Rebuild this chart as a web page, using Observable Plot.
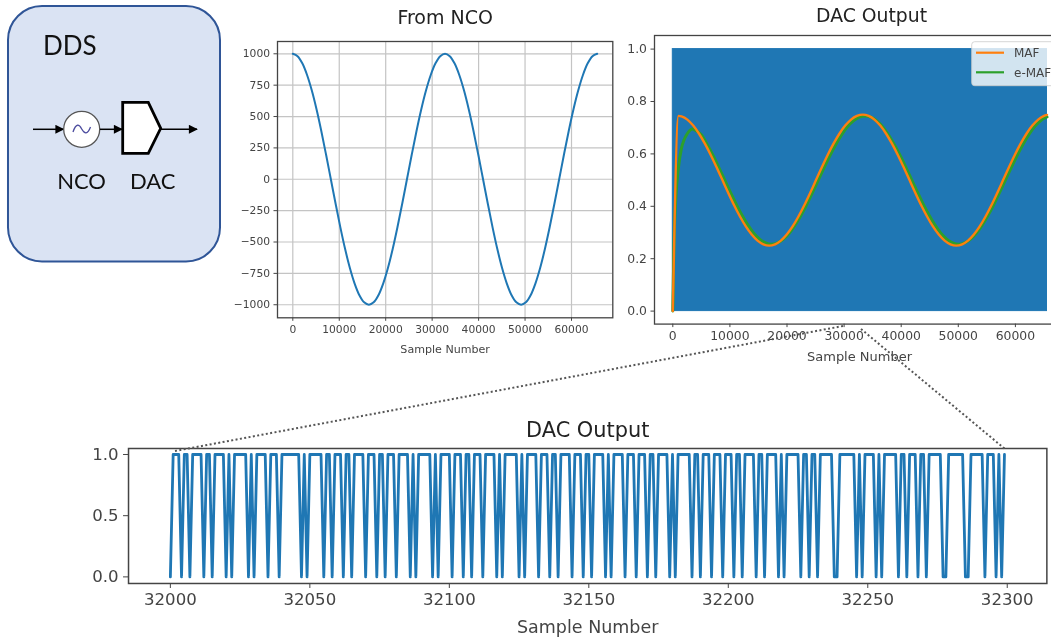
<!DOCTYPE html>
<html>
<head>
<meta charset="utf-8">
<script src="https://cdn.jsdelivr.net/npm/d3@7"></script>
<script src="https://cdn.jsdelivr.net/npm/@observablehq/plot@0.6"></script>
<style>
html,body{margin:0;padding:0;background:#fff;}
#page{position:relative;width:1051px;height:638px;overflow:hidden;background:#fff;filter:blur(0.6px);}
#page>svg{position:absolute;}
#page>svg.overlay{left:0;top:0;}
</style>
</head>
<body>
<div id="page">
<svg id="dds" class="overlay" width="1051" height="638" style="z-index:1">
  <defs>
    <marker id="arr" viewBox="0 0 10 10" refX="9" refY="5" markerWidth="10" markerHeight="9" markerUnits="userSpaceOnUse" orient="auto"><path d="M0,0L10,5L0,10z" fill="#000"/></marker>
  </defs>
  <rect x="8" y="6" width="212" height="255.5" rx="34" fill="#dae3f3" stroke="#2f5597" stroke-width="2"/>
  <text x="43" y="55" font-family="Lato" font-size="26" fill="#111">DDS</text>
  <line x1="33" y1="129.3" x2="63.5" y2="129.3" stroke="#000" stroke-width="1.5" marker-end="url(#arr)"/>
  <circle cx="81.7" cy="129.3" r="18" fill="#fff" stroke="#555" stroke-width="1.3"/>
  <path d="M73,132 C76,123 79,124 81.7,129 C84.5,134 87.5,135 90.5,127" fill="none" stroke="#4b4b9e" stroke-width="1.3"/>
  <line x1="100" y1="129.3" x2="122" y2="129.3" stroke="#000" stroke-width="1.5" marker-end="url(#arr)"/>
  <path d="M122.7,102.3H148.3L160.7,128.3L148.3,153.3H122.7Z" fill="#fff" stroke="#000" stroke-width="2.8"/>
  <line x1="161" y1="129.3" x2="197" y2="129.3" stroke="#000" stroke-width="1.5" marker-end="url(#arr)"/>
  <text x="81.6" y="189" text-anchor="middle" font-family="Lato" font-size="22" fill="#111">NCO</text>
  <text x="152.7" y="189" text-anchor="middle" font-family="Lato" font-size="22" fill="#111">DAC</text>
</svg>
<svg id="legend" class="overlay" width="1051" height="638" style="z-index:3">
  <rect x="971.7" y="41.7" width="100" height="44" rx="3" fill="#fff" fill-opacity="0.8" stroke="#ccc" stroke-opacity="0.8"/>
  <g id="legendItems"></g>
  <line x1="175" y1="451" x2="843" y2="326" stroke="#555" stroke-width="2" stroke-dasharray="2 2.4"/>
  <line x1="861" y1="329" x2="1005" y2="449" stroke="#555" stroke-width="2" stroke-dasharray="2 2.4"/>
</svg>
</div>
<script>
// ---------- From NCO ----------
const ncoSamples = [0,1024,2048,3072,4096,5120,6144,7168,8192,9216,10240,11264,12288,13312,14336,15360,16384,17408,18432,19456,20480,21504,22528,23552,24576,25600,26624,27648,28672,29696,30720,31744,32768,33792,34816,35840,36864,37888,38912,39936,40960,41984,43008,44032,45056,46080,47104,48128,49152,50176,51200,52224,53248,54272,55296,56320,57344,58368,59392,60416,61440,62464,63488,64512,65535];
const ncoValues  = [1000,981,924,831,707,556,383,195,0,-195,-383,-556,-707,-831,-924,-981,-1000,-981,-924,-831,-707,-556,-383,-195,0,195,383,556,707,831,924,981,1000,981,924,831,707,556,383,195,0,-195,-383,-556,-707,-831,-924,-981,-1000,-981,-924,-831,-707,-556,-383,-195,0,195,383,556,707,831,924,981,1000];

// ---------- DAC Output (full range) ----------
const dacSpan = [0, 65535];
const dacLevels = [0, 1];
const mafSamples = [0,1000,1524,2548,3572,4596,5620,6644,7668,8692,9716,10740,11764,12788,13812,14836,15860,16884,17908,18932,19956,20980,22004,23028,24052,25076,26100,27124,28148,29172,30196,31220,32244,33268,34292,35316,36340,37364,38388,39412,40436,41460,42484,43508,44532,45556,46580,47604,48628,49652,50676,51700,52724,53748,54772,55796,56820,57844,58868,59892,60916,61940,62964,63988,65012,65535];
const mafValues  = [0,.745,.743,.731,.708,.677,.639,.596,.549,.5,.451,.404,.361,.323,.292,.269,.255,.25,.255,.269,.292,.323,.361,.404,.451,.5,.549,.596,.639,.677,.708,.731,.745,.75,.745,.731,.708,.677,.639,.596,.549,.5,.451,.404,.361,.323,.292,.269,.255,.25,.255,.269,.292,.323,.361,.404,.451,.5,.549,.596,.639,.677,.708,.731,.745,.749];
const emafSamples = [0,200,500,1000,1500,2000,2500,3000,3400,4000,4996,6020,7044,8068,9092,10116,11140,12164,13188,14212,15236,16260,17284,18308,19332,20356,21380,22404,23428,24452,25476,26500,27524,28548,29572,30596,31620,32644,33668,34692,35716,36740,37764,38788,39812,40836,41860,42884,43908,44932,45956,46980,48004,49028,50052,51076,52100,53124,54148,55172,56196,57220,58244,59268,60292,61316,62340,63364,64388,65412,65535];
const emafValues  = [0,.25,.42,.55,.62,.655,.676,.69,.695,.69,.673,.636,.594,.548,.5,.452,.406,.364,.327,.296,.274,.26,.255,.26,.274,.296,.327,.364,.406,.452,.5,.548,.594,.636,.673,.704,.726,.74,.745,.74,.726,.704,.673,.636,.594,.548,.5,.452,.406,.364,.327,.296,.274,.26,.255,.26,.274,.296,.327,.364,.406,.452,.5,.548,.594,.636,.673,.704,.726,.74,.741];
const legendLabels = ["MAF","e-MAF"];
const legendColors = ["#ff7f0e","#2ca02c"];

// ---------- DAC Output (zoomed window) ----------
const windowStart = 32000;
const windowLength = 300;
const zeroOffsets = [0,4,7,12,15,20,22,28,30,35,39,47,49,55,58,62,65,70,74,77,81,86,88,94,96,101,105,108,112,117,119,125,127,132,136,139,144,148,151,156,158,163,167,171,174,179,181,187,190,194,198,202,205,210,213,218,220,226,229,232,238,239,246,248,253,255,261,264,268,271,277,278,285,286,292,296,298];

// ---------- Tick labels ----------
const ncoXTicks = [0,10000,20000,30000,40000,50000,60000];
const ncoYTicks = [-1000,-750,-500,-250,0,250,500,750,1000];
const dacYTicks = [0,0.2,0.4,0.6,0.8,1];
const winXTicks = [32000,32050,32100,32150,32200,32250,32300];
const winYTicks = [0,0.5,1];

const blue = "#1f77b4", orange = "#ff7f0e", green = "#2ca02c";
const axisInk = "#444";
const intFmt = d3.format("d"), oneFmt = d3.format(".1f");
const zip = (xs, ys) => xs.map((x, i) => ({x, y: ys[i]}));

function place(opts, frame, xDomain, yDomain, marks) {
  const m = {t: opts.marginTop, b: opts.marginBottom, l: opts.marginLeft, r: 30};
  const svg = Plot.plot({
    width: frame.right - frame.left + m.l + m.r,
    height: frame.bottom - frame.top + m.t + m.b,
    marginTop: m.t, marginBottom: m.b, marginLeft: m.l, marginRight: m.r,
    x: {domain: xDomain, axis: null},
    y: {domain: yDomain, axis: null},
    style: {fontFamily: "DejaVu Sans", fontSize: opts.tickFont + "px", color: axisInk, background: "transparent", overflow: "visible"},
    marks
  });
  svg.style.left = (frame.left - m.l) + "px";
  svg.style.top = (frame.top - m.t) + "px";
  svg.style.zIndex = 2;
  document.getElementById("page").appendChild(svg);
}

function titled(text, size, dy) {
  return Plot.text([text], {frameAnchor: "top", dy, fontSize: size, fill: "#222", lineAnchor: "middle"});
}
function xLabel(text, size, dy) {
  return Plot.text([text], {frameAnchor: "bottom", dy, fontSize: size, fill: axisInk, lineAnchor: "middle"});
}

// From NCO
place({marginTop: 40, marginBottom: 42, marginLeft: 50, tickFont: 10.7},
  {left: 277, right: 612.3, top: 40.7, bottom: 317},
  [-3294, 68890], [-1104, 1098], [
    Plot.gridX(ncoXTicks, {stroke: "#c4c4c4", strokeOpacity: 1, strokeWidth: 1.2}),
    Plot.gridY(ncoYTicks, {stroke: "#c4c4c4", strokeOpacity: 1, strokeWidth: 1.2}),
    Plot.line(zip(ncoSamples, ncoValues), {x: "x", y: "y", stroke: blue, strokeWidth: 2, curve: "catmull-rom"}),
    Plot.axisX({ticks: ncoXTicks, tickFormat: intFmt, tickSize: 3.5, tickPadding: 4, label: null, stroke: axisInk}),
    Plot.axisY({ticks: ncoYTicks, tickFormat: intFmt, tickSize: 3.5, tickPadding: 4, label: null, stroke: axisInk}),
    Plot.frame({stroke: axisInk, strokeWidth: 1.3}),
    titled("From NCO", 19, -23.2),
    xLabel("Sample Number", 11.1, 31.7)
  ]);

// DAC Output, full range
place({marginTop: 34, marginBottom: 44, marginLeft: 40, tickFont: 12.4},
  {left: 654, right: 1066, top: 34.7, bottom: 323.3},
  [-3205, 68950], [-0.0496, 1.0519], [
    Plot.rect([{x1: dacSpan[0], x2: dacSpan[1], y1: dacLevels[0], y2: dacLevels[1]}],
      {x1: "x1", x2: "x2", y1: "y1", y2: "y2", fill: blue, stroke: blue, strokeWidth: 1}),
    Plot.line(zip(emafSamples, emafValues), {x: "x", y: "y", stroke: green, strokeWidth: 3, curve: "monotone-x"}),
    Plot.line(zip(mafSamples, mafValues), {x: "x", y: "y", stroke: orange, strokeWidth: 2.4, curve: "monotone-x"}),
    Plot.axisX({ticks: ncoXTicks, tickFormat: intFmt, tickSize: 3.5, tickPadding: 4, label: null, stroke: axisInk}),
    Plot.axisY({ticks: dacYTicks, tickFormat: oneFmt, tickSize: 3.5, tickPadding: 4, label: null, stroke: axisInk}),
    Plot.frame({stroke: axisInk, strokeWidth: 1.3}),
    Plot.text(["DAC Output"], {x: () => 34800, frameAnchor: "top", dy: -20, fontSize: 18.8, fill: "#222", lineAnchor: "middle"}),
    Plot.text(["Sample Number"], {x: () => 32700, frameAnchor: "bottom", dy: 32.7, fontSize: 13, fill: axisInk, lineAnchor: "middle"})
  ]);

// DAC Output, zoomed window
const zeroSet = new Set(zeroOffsets);
const windowSamples = Array.from({length: windowLength}, (_, i) => windowStart + i);
const windowValues = windowSamples.map((_, i) => zeroSet.has(i) ? 0 : 1);
place({marginTop: 32, marginBottom: 55, marginLeft: 50, tickFont: 16.6},
  {left: 128.3, right: 1046.7, top: 448.3, bottom: 583.3},
  [31985, 32314.2], [-0.054, 1.049], [
    Plot.line(zip(windowSamples, windowValues), {x: "x", y: "y", stroke: blue, strokeWidth: 2.8}),
    Plot.axisX({ticks: winXTicks, tickFormat: intFmt, tickSize: 5, tickPadding: 5, label: null, stroke: axisInk}),
    Plot.axisY({ticks: winYTicks, tickFormat: oneFmt, tickSize: 5, tickPadding: 5, label: null, stroke: axisInk}),
    Plot.frame({stroke: axisInk, strokeWidth: 1.5}),
    titled("DAC Output", 20.9, -18.3),
    xLabel("Sample Number", 17.5, 43.7)
  ]);

// Legend rows
const rows = d3.select("#legendItems").selectAll("g").data(legendLabels).join("g");
const rowY = [52.7, 72.3];
rows.append("line").attr("x1", 976).attr("x2", 1004).attr("y1", (d, i) => rowY[i]).attr("y2", (d, i) => rowY[i])
  .attr("stroke", (d, i) => legendColors[i]).attr("stroke-width", 2.2);
rows.append("text").attr("x", 1014).attr("y", (d, i) => rowY[i] + 4.4).text(d => d)
  .attr("font-family", "DejaVu Sans").attr("font-size", 12).attr("fill", axisInk);
</script>
</body>
</html>
